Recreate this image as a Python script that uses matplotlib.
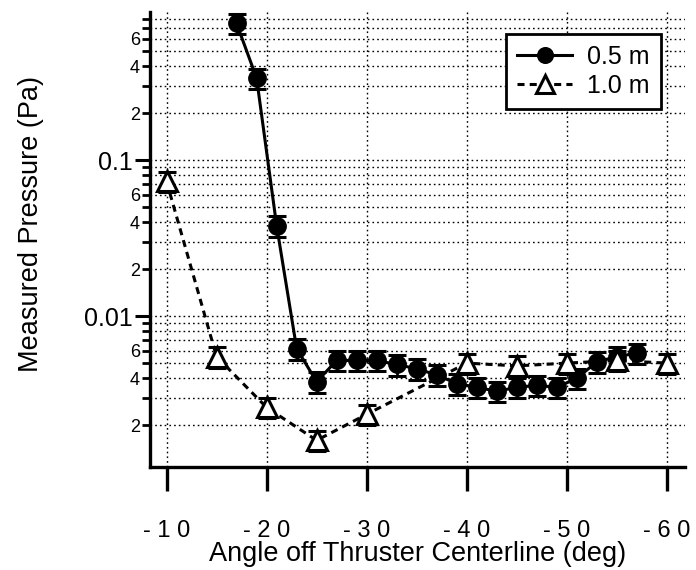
import matplotlib
matplotlib.use("Agg")
import matplotlib.pyplot as plt
from matplotlib.ticker import FixedLocator, FixedFormatter, NullLocator

# ---- data ----
angle_05 = [-17, -19, -21, -23, -25, -27, -29, -31, -33, -35, -37,
            -39, -41, -43, -45, -47, -49, -51, -53, -55, -57]
pressure_05 = [0.75, 0.335, 0.038, 0.0062, 0.0038, 0.0052, 0.0052, 0.0052,
               0.0049, 0.0046, 0.0042, 0.0037, 0.0035, 0.0033, 0.0035,
               0.0036, 0.0035, 0.0040, 0.0051, 0.0055, 0.0058]
angle_10 = [-10, -15, -20, -25, -30, -40, -45, -50, -55, -60]
pressure_10 = [0.073, 0.0055, 0.0026, 0.0016, 0.00235, 0.0050, 0.0048,
               0.0050, 0.0052, 0.0050]
rel_err = 0.15
series_labels = ["0.5 m", "1.0 m"]

x_ticks = [-10, -20, -30, -40, -50, -60]
x_ticklabels = ["-10", "-20", "-30", "-40", "-50", "-60"]
y_major = [0.01, 0.1]
y_major_labels = ["0.01", "0.1"]
y_minor_mult = [2, 3, 4, 5, 6, 7, 8, 9]
y_minor_labeled = [2, 4, 6]
decades = [0.001, 0.01, 0.1]

xlabel = "Angle off Thruster Centerline (deg)"
ylabel = "Measured Pressure (Pa)"

plt.rcParams['font.family'] = ['Liberation Sans', 'DejaVu Sans']

fig = plt.figure(figsize=(6.96, 5.70), dpi=100)
ax = fig.add_axes([0.2148, 0.1807, 0.7694, 0.7982])

ax.set_yscale('log')
ax.set_xlim(-8.3, -61.8)
ax.set_ylim(0.00108, 0.888)

# error bars
err05 = [[p * rel_err for p in pressure_05], [p * rel_err for p in pressure_05]]
err10 = [[p * rel_err for p in pressure_10], [p * rel_err for p in pressure_10]]
ax.errorbar(angle_05, pressure_05, yerr=err05, fmt='none', ecolor='black',
            elinewidth=2.0, capsize=6.5, capthick=2.2, zorder=3)
ax.errorbar(angle_10, pressure_10, yerr=err10, fmt='none', ecolor='black',
            elinewidth=2.0, capsize=6.5, capthick=2.2, zorder=3)

ax.plot(angle_05, pressure_05, color='black', lw=2.2, marker='o', ms=12.5,
        mfc='black', mec='black', label=series_labels[0], zorder=4)
ax.plot(angle_10, pressure_10, color='black', lw=2.2, ls=(0, (2.3, 1.7)),
        marker='^', ms=14, mfc='white', mec='black', mew=2.2,
        label=series_labels[1], zorder=4)

# ticks
ax.set_xticks(x_ticks)
ax.set_xticklabels([" ".join(t) for t in x_ticklabels])
ax.xaxis.set_minor_locator(NullLocator())

ax.yaxis.set_major_locator(FixedLocator(y_major))
ax.yaxis.set_major_formatter(FixedFormatter(y_major_labels))
minor_vals = []
minor_labels = []
for d in decades:
    for m in y_minor_mult:
        minor_vals.append(d * m)
        minor_labels.append(str(m) if m in y_minor_labeled else "")
ax.yaxis.set_minor_locator(FixedLocator(minor_vals))
ax.yaxis.set_minor_formatter(FixedFormatter(minor_labels))

ax.tick_params(axis='x', which='major', direction='out', length=17, width=2.4,
               labelsize=17, pad=21)
ax.tick_params(axis='y', which='major', direction='out', length=11, width=2.2,
               labelsize=18, pad=1)
ax.tick_params(axis='y', which='minor', direction='out', length=6, width=2.0,
               labelsize=13, pad=1)

# grid
ax.grid(True, axis='x', which='major', color='black', lw=1.0, ls=(0, (1.2, 2.2)))
ax.grid(True, axis='y', which='both', color='black', lw=1.0, ls=(0, (1.2, 2.2)))
ax.set_axisbelow(True)

for s in ['top', 'right']:
    ax.spines[s].set_visible(False)
for s in ['left', 'bottom']:
    ax.spines[s].set_linewidth(2.4)

ax.set_xlabel(xlabel, fontsize=19.5)
ax.xaxis.set_label_coords(0.5, -0.162)
ax.set_ylabel(ylabel, fontsize=19.5)
ax.yaxis.set_label_coords(-0.197, 0.534)

leg = ax.legend(loc='upper right', bbox_to_anchor=(0.955, 0.952), fontsize=18,
                frameon=True, fancybox=False, edgecolor='black',
                handlelength=2.2, handletextpad=0.6, labelspacing=0.2,
                borderpad=0.45, borderaxespad=0.0, markerscale=0.9)
leg.get_frame().set_linewidth(2.0)
leg.get_frame().set_facecolor('white')
leg.get_frame().set_alpha(1.0)

fig.savefig("out.png", dpi=100)
